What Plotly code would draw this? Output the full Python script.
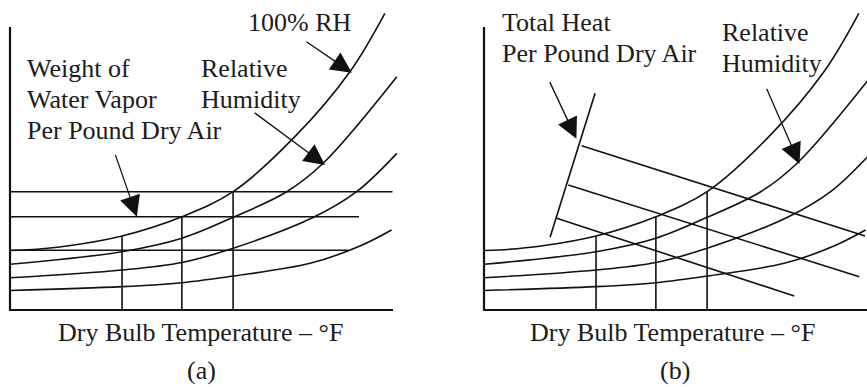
import plotly.graph_objects as go

# ---------------- Sketch data (dry bulb °F vs. moisture, grains per lb dry air) ----------------
# Relative-humidity curves, from saturation (100% RH) downward
rh100_db = [30.0, 33.1, 41.9, 53.4, 65.9, 76.6, 89.5, 101.0, 108.3]
rh100_w = [42.1, 42.4, 45.2, 52.3, 65.9, 83.6, 122.5, 168.4, 209.7]
rh2_db = [30.0, 53.4, 65.9, 76.6, 87.8, 95.4, 110.8]
rh2_w = [32.3, 41.2, 50.7, 65.5, 83.6, 103.7, 164.9]
rh3_db = [30.0, 53.4, 65.9, 76.6, 93.4, 102.4, 110.8]
rh3_w = [22.8, 28.3, 33.6, 43.6, 65.5, 83.6, 110.7]
rh4_db = [30.0, 53.4, 65.9, 76.6, 92.7, 103.1, 109.7]
rh4_w = [13.8, 16.5, 19.3, 24.0, 33.0, 45.2, 56.5]

# Dry bulb reference lines, running up to the saturation curve
db_marks = [53.4, 65.9, 76.6]
db_marks_sat_w = [52.3, 65.9, 83.6]

# Constant moisture lines (panel a)
w_levels = [42.2, 65.9, 83.6]
w_levels_end_db = [100.6, 102.9, 109.9]

# Total heat (enthalpy) scale and constant-enthalpy lines (panel b)
h_scale_db = [53.2, 43.8]
h_scale_w = [153.2, 51.4]
h_start_db = [50.4, 47.6, 45.2]
h_start_w = [116.1, 88.3, 64.8]
h_end_db = [109.6, 108.4, 94.8]
h_end_w = [52.3, 23.5, 9.9]

# Axis extents
db_axis = [30.0, 110.0]
w_axis_top = 200.0

# Pointer arrows: tail (db, w) -> tip (db, w)
arrows_a = [
    (91.6, 190.3, 101.4, 167.7),   # 100% RH
    (80.8, 140.1, 95.8, 102.5),    # Relative Humidity
    (51.9, 110.7, 56.5, 65.9),     # Weight of water vapor
]
arrows_b = [
    (43.6, 162.1, 49.3, 121.0),    # Total heat
    (88.9, 157.4, 95.9, 103.2),    # Relative Humidity
]

# ---------------- Layout geometry ----------------
FIG_W, FIG_H = 867, 387
KX, KY = 4.7875, 1.415          # pixels per °F, pixels per grain
ORIGIN_A_PX, ORIGIN_B_PX, ORIGIN_Y_PX = 10, 484, 310
SPLIT_PX = FIG_W / 2

INK = "#111111"
TEXT_INK = "#1c1c1c"
FONT = "Liberation Serif"
FONT_SIZE = 26
ASCENT = 0.891                  # Liberation Serif ascent, in em
LINE = dict(color=INK, width=1.6)


def x_range(origin_px, left_px, right_px):
    return [db_axis[0] + (left_px - origin_px) / KX,
            db_axis[0] + (right_px - origin_px) / KX]


y_range = [(ORIGIN_Y_PX - FIG_H) / KY, ORIGIN_Y_PX / KY]

fig = go.Figure()


def add_line(xs, ys, xa, ya, spline=False, width=None):
    line = dict(LINE)
    if width:
        line["width"] = width
    if spline:
        line["shape"] = "spline"
        line["smoothing"] = 1.0
    fig.add_trace(go.Scatter(x=xs, y=ys, mode="lines", line=line,
                             xaxis=xa, yaxis=ya, hoverinfo="skip",
                             showlegend=False))


def draw_common(xa, ya):
    # axes (L shape)
    add_line([db_axis[0], db_axis[0], db_axis[1]], [w_axis_top, 0, 0],
             xa, ya, width=2.2)
    # relative humidity family
    for xs, ys in [(rh100_db, rh100_w), (rh2_db, rh2_w),
                   (rh3_db, rh3_w), (rh4_db, rh4_w)]:
        add_line(xs, ys, xa, ya, spline=True)
    # dry bulb lines
    for db, w in zip(db_marks, db_marks_sat_w):
        add_line([db, db], [0, w], xa, ya)


# Panel (a): moisture content
draw_common("x", "y")
for w, db_end in zip(w_levels, w_levels_end_db):
    add_line([db_axis[0], db_end], [w, w], "x", "y")

# Panel (b): total heat
draw_common("x2", "y2")
add_line(h_scale_db, h_scale_w, "x2", "y2")
for x0, y0, x1, y1 in zip(h_start_db, h_start_w, h_end_db, h_end_w):
    add_line([x0, x1], [y0, y1], "x2", "y2")

annotations = []


def arrow(tail_x, tail_y, tip_x, tip_y, xref, yref):
    annotations.append(dict(
        x=tip_x, y=tip_y, ax=tail_x, ay=tail_y,
        xref=xref, yref=yref, axref=xref, ayref=yref,
        text="", showarrow=True, arrowhead=2, arrowsize=3.2,
        arrowwidth=1.3, arrowcolor=INK, standoff=0))


for a in arrows_a:
    arrow(*a, "x", "y")
for a in arrows_b:
    arrow(*a, "x2", "y2")


def label(text, x_px, baseline_px, xanchor="left"):
    top_px = baseline_px - ASCENT * FONT_SIZE - 1
    annotations.append(dict(
        text=text, x=x_px / FIG_W, y=1 - top_px / FIG_H,
        xref="paper", yref="paper", xanchor=xanchor, yanchor="top",
        showarrow=False,
        font=dict(family=FONT, size=FONT_SIZE, color=TEXT_INK)))


def label_block(lines, x_px, first_baseline_px, step_px=31.3):
    for i, line in enumerate(lines):
        label(line, x_px, first_baseline_px + i * step_px)


label("100% RH", 246, 30)
label_block(["Weight of", "Water Vapor", "Per Pound Dry Air"], 25, 76)
label_block(["Relative", "Humidity"], 199, 76)
label_block(["Total Heat", "Per Pound Dry Air"], 500, 30)
label_block(["Relative", "Humidity"], 720, 40)
label("Dry Bulb Temperature \u2013 \u00b0F", 200, 340, xanchor="center")
label("Dry Bulb Temperature \u2013 \u00b0F", 672.5, 340, xanchor="center")
label("(a)", 201.5, 378.5, xanchor="center")
label("(b)", 675, 378.5, xanchor="center")

hidden = dict(visible=False, showgrid=False, zeroline=False, fixedrange=True)

fig.update_layout(
    width=FIG_W, height=FIG_H,
    margin=dict(l=0, r=0, t=0, b=0),
    paper_bgcolor="white", plot_bgcolor="white",
    font=dict(family=FONT),
    xaxis=dict(domain=[0, SPLIT_PX / FIG_W],
               range=x_range(ORIGIN_A_PX, 0, SPLIT_PX), **hidden),
    yaxis=dict(domain=[0, 1], range=y_range, **hidden),
    xaxis2=dict(domain=[SPLIT_PX / FIG_W, 1],
                range=x_range(ORIGIN_B_PX, SPLIT_PX, FIG_W), **hidden),
    yaxis2=dict(domain=[0, 1], range=y_range, anchor="x2", **hidden),
    annotations=annotations,
    showlegend=False,
)

fig.write_html("out.html")
